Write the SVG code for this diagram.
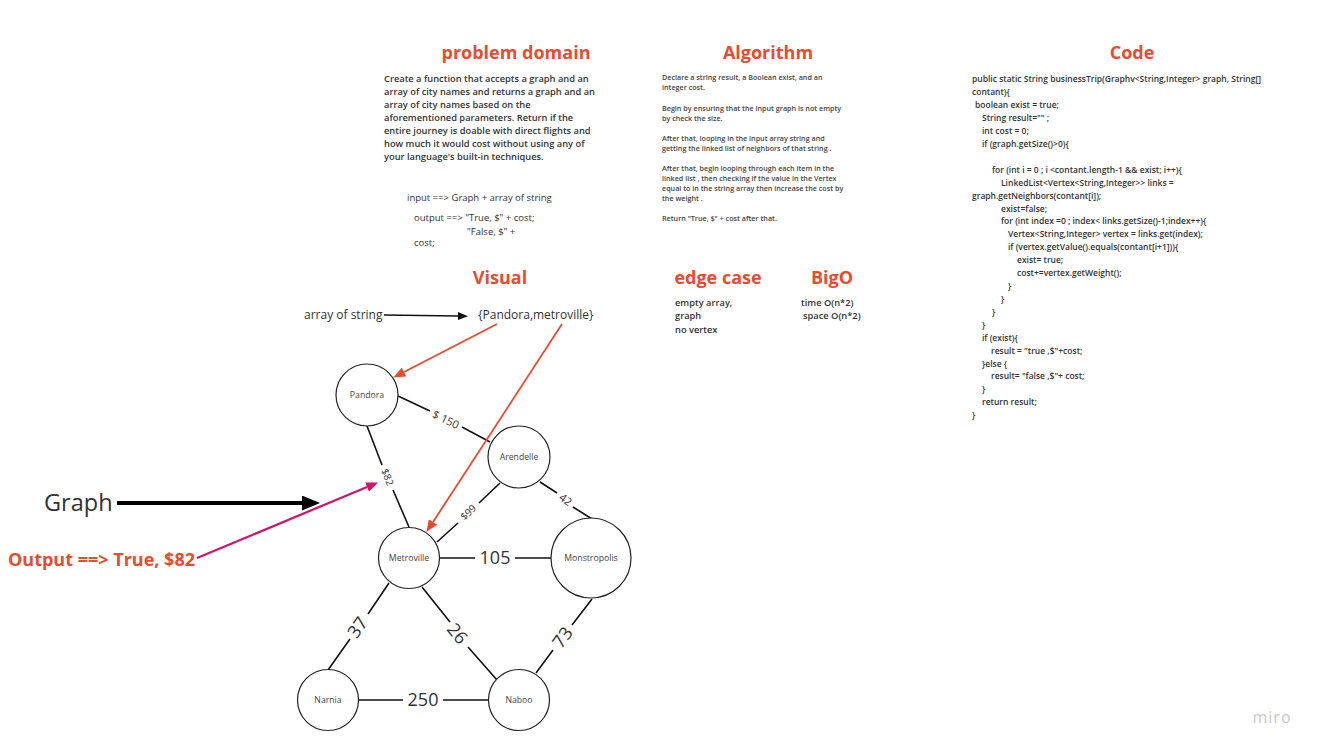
<svg xmlns="http://www.w3.org/2000/svg" width="1323" height="755" viewBox="0 0 1323 755">
<style>
.t{font-family:"Open Sans","Liberation Sans",sans-serif;font-weight:700;font-size:18px;fill:#E84C30;text-anchor:middle}
.b{font-family:"Open Sans","Liberation Sans",sans-serif;font-weight:600;font-size:8.5px;fill:#333}
.p{font-family:"Open Sans","Liberation Sans",sans-serif;font-weight:600;font-size:9.3px;fill:#333}
.a{font-family:"Open Sans","Liberation Sans",sans-serif;font-weight:600;font-size:7.2px;fill:#444}
.r{font-family:"Open Sans","Liberation Sans",sans-serif;font-weight:400;font-size:9.5px;fill:#333}
.n{font-family:"Open Sans","Liberation Sans",sans-serif;font-size:8.7px;fill:#444;text-anchor:middle;dominant-baseline:central}
.el{font-family:"Open Sans","Liberation Sans",sans-serif;fill:#333;text-anchor:middle;dominant-baseline:central}
.node{fill:#fff;stroke:#222;stroke-width:1.2}
.e{stroke:#111;stroke-width:1.6;fill:none}
</style>
<defs>
<marker id="mb" markerUnits="userSpaceOnUse" markerWidth="10" markerHeight="8" refX="0" refY="4" orient="auto"><path d="M0,0 L10,4 L0,8 z" fill="#111"/></marker>
<marker id="mr" markerUnits="userSpaceOnUse" markerWidth="12" markerHeight="10" refX="0" refY="5" orient="auto"><path d="M0,0 L12,5 L0,10 z" fill="#E84C30"/></marker>
<marker id="mm" markerUnits="userSpaceOnUse" markerWidth="12" markerHeight="10" refX="0" refY="5" orient="auto"><path d="M0,0 L12,5 L0,10 z" fill="#D01568"/></marker>
<marker id="mg" markerUnits="userSpaceOnUse" markerWidth="18" markerHeight="15" refX="1" refY="7.5" orient="auto"><path d="M0,0 L18,7.5 L0,15 z" fill="#000"/></marker>
</defs>
<rect width="1323" height="755" fill="#fff"/>

<g id="problem-domain">
<text class="t" x="516" y="59">problem domain</text>
<text class="p" x="384" y="82">Create a function that accepts a graph and an</text>
<text class="p" x="384" y="95">array of city names and returns a graph and an</text>
<text class="p" x="384" y="108">array of city names based on the</text>
<text class="p" x="384" y="121">aforementioned parameters. Return if the</text>
<text class="p" x="384" y="134">entire journey is doable with direct flights and</text>
<text class="p" x="384" y="147">how much it would cost without using any of</text>
<text class="p" x="384" y="160">your language's built-in techniques.</text>
<text class="r" x="407" y="201">input ==&gt; Graph + array of string</text>
<text class="r" x="414" y="221">output ==&gt; "True, $" + cost;</text>
<text class="r" x="467" y="235">"False, $" +</text>
<text class="r" x="414" y="246">cost;</text>
</g>

<g id="algorithm">
<text class="t" x="768" y="59">Algorithm</text>
<text class="a" x="662" y="80">Declare a string result, a Boolean exist, and an</text>
<text class="a" x="662" y="90">integer cost.</text>
<text class="a" x="662" y="111">Begin by ensuring that the input graph is not empty</text>
<text class="a" x="662" y="121">by check the size.</text>
<text class="a" x="662" y="141">After that,  looping in the input array string  and</text>
<text class="a" x="662" y="151">getting the linked list of neighbors of that string .</text>
<text class="a" x="662" y="171">After that, begin looping through each item in the</text>
<text class="a" x="662" y="181">linked list , then checking if the value in the Vertex</text>
<text class="a" x="662" y="191">equal to in the string array then increase the cost by</text>
<text class="a" x="662" y="201">the weight .</text>
<text class="a" x="662" y="221">Return "True, $" + cost after that.</text>
</g>

<g id="code">
<text class="t" x="1132" y="59">Code</text>
<text class="b" x="972" y="82">public static String businessTrip(Graphv&lt;String,Integer&gt; graph, String[]</text>
<text class="b" x="972" y="95">contant){</text>
<text class="b" x="975" y="108">boolean exist = true;</text>
<text class="b" x="982" y="121">String result="" ;</text>
<text class="b" x="982" y="134">int cost = 0;</text>
<text class="b" x="982" y="147">if (graph.getSize()&gt;0){</text>
<text class="b" x="992" y="173">for (int i = 0 ; i &lt;contant.length-1 &amp;&amp; exist; i++){</text>
<text class="b" x="1001" y="186">LinkedList&lt;Vertex&lt;String,Integer&gt;&gt; links =</text>
<text class="b" x="972" y="199">graph.getNeighbors(contant[i]);</text>
<text class="b" x="1001" y="212">exist=false;</text>
<text class="b" x="1001" y="224">for (int index =0 ; index&lt; links.getSize()-1;index++){</text>
<text class="b" x="1008" y="237">Vertex&lt;String,Integer&gt; vertex = links.get(index);</text>
<text class="b" x="1008" y="250">if (vertex.getValue().equals(contant[i+1])){</text>
<text class="b" x="1017" y="263">exist= true;</text>
<text class="b" x="1017" y="276">cost+=vertex.getWeight();</text>
<text class="b" x="1008" y="289">}</text>
<text class="b" x="1001" y="302">}</text>
<text class="b" x="992" y="315">}</text>
<text class="b" x="982" y="328">}</text>
<text class="b" x="982" y="341">if (exist){</text>
<text class="b" x="991" y="354">result = "true ,$"+cost;</text>
<text class="b" x="982" y="367">}else {</text>
<text class="b" x="991" y="379">result= "false ,$"+ cost;</text>
<text class="b" x="982" y="392">}</text>
<text class="b" x="982" y="405">return result;</text>
<text class="b" x="972" y="418">}</text>
</g>

<g id="visual-title"><text class="t" x="500" y="284">Visual</text></g>

<g id="edge-case">
<text class="t" x="718" y="284">edge case</text>
<text class="p" x="675" y="306">empty array,</text>
<text class="p" x="675" y="319">graph</text>
<text class="p" x="675" y="333">no vertex</text>
</g>

<g id="bigo">
<text class="t" x="832" y="284">BigO</text>
<text class="p" x="801" y="306">time O(n*2)</text>
<text class="p" x="803" y="319">space O(n*2)</text>
</g>

<g id="array-label">
<text x="304" y="319" style="font-family:'Open Sans','Liberation Sans',sans-serif;font-size:12px;fill:#333">array of string</text>
</g>
<g id="array-value">
<text x="478" y="319" style="font-family:'Open Sans','Liberation Sans',sans-serif;font-size:12px;fill:#333">{Pandora,metroville}</text>
</g>

<g id="graph-label">
<text x="44" y="511" style="font-family:'Open Sans','Liberation Sans',sans-serif;font-size:23.5px;fill:#333">Graph</text>
</g>
<g id="output-label">
<text x="8" y="566" style="font-family:'Open Sans','Liberation Sans',sans-serif;font-weight:700;font-size:18px;fill:#E84C30">Output ==&gt; True, $82</text>
</g>

<g id="connectors">
<path class="e" d="M398,396 L430,411 M462,427 L490,442"/>
<text class="el" font-size="11" transform="translate(446,419) rotate(26)">$ 150</text>
<path class="e" d="M367,426 L382,465 M393,490 L409,527"/>
<text class="el" font-size="10" transform="translate(388,477) rotate(68)">$82</text>
<path class="e" d="M500,483 L479,503 M458,523 L437,542"/>
<text class="el" font-size="10" transform="translate(468,512) rotate(-43)">$99</text>
<path class="e" d="M540,482 L557,493 M573,507 L592,519"/>
<text class="el" font-size="11" transform="translate(566,499) rotate(36)">42</text>
<path class="e" d="M440,558 L475,558 M515,558 L551,558"/>
<text class="el" font-size="18" x="495" y="557">105</text>
<path class="e" d="M389,583 L368,614 M350,639 L328,670"/>
<text class="el" font-size="18" transform="translate(357,627) rotate(-55)">37</text>
<path class="e" d="M422,587 L450,622 M468,647 L497,680"/>
<text class="el" font-size="18" transform="translate(458,633) rotate(51)">26</text>
<path class="e" d="M592,599 L572,625 M553,650 L536,673"/>
<text class="el" font-size="18" transform="translate(562,637) rotate(-54)">73</text>
<path class="e" d="M359,700 L403,700 M443,700 L488,700"/>
<text class="el" font-size="18" x="423" y="699">250</text>

<path d="M384,315 L458,316" stroke="#111" stroke-width="1.6" fill="none" marker-end="url(#mb)"/>
<path d="M497,324 L404,372" stroke="#E84C30" stroke-width="1.8" fill="none" marker-end="url(#mr)"/>
<path d="M562,324 L433,522" stroke="#E84C30" stroke-width="1.8" fill="none" marker-end="url(#mr)"/>
<path d="M117,503 L303,503" stroke="#000" stroke-width="4" fill="none" marker-end="url(#mg)"/>
<path d="M197,558 L367,487" stroke="#D01568" stroke-width="2.2" fill="none" marker-end="url(#mm)"/>
</g>

<g id="node-pandora"><circle class="node" cx="367" cy="395" r="31"/><text class="n" x="367" y="395">Pandora</text></g>
<g id="node-arendelle"><circle class="node" cx="519" cy="457" r="31"/><text class="n" x="519" y="457">Arendelle</text></g>
<g id="node-metroville"><circle class="node" cx="409" cy="558" r="30.5"/><text class="n" x="409" y="558">Metroville</text></g>
<g id="node-monstropolis"><circle class="node" cx="591" cy="558" r="40"/><text class="n" x="591" y="558">Monstropolis</text></g>
<g id="node-narnia"><circle class="node" cx="328" cy="700" r="30.5"/><text class="n" x="328" y="700">Narnia</text></g>
<g id="node-naboo"><circle class="node" cx="519" cy="700" r="30.5"/><text class="n" x="519" y="700">Naboo</text></g>

<g id="watermark"><text x="1272" y="723" style="font-family:'Open Sans','Liberation Sans',sans-serif;font-size:16px;fill:#c8c8cc;text-anchor:middle;letter-spacing:1px">miro</text></g>
</svg>
